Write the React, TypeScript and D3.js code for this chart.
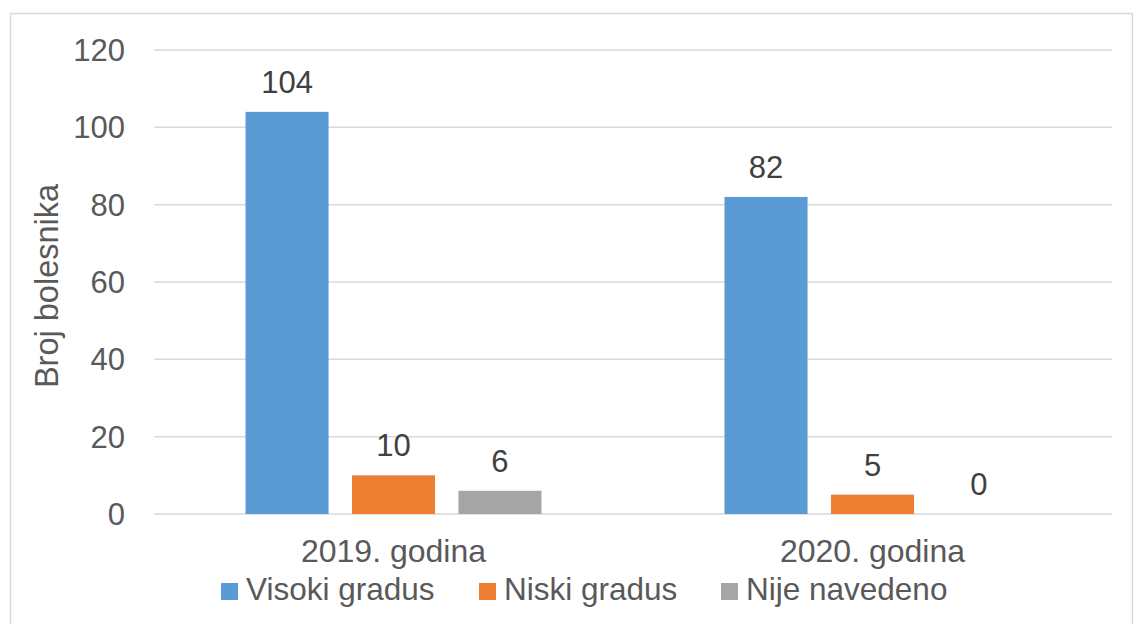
import React, { useEffect, useRef } from 'react';
import * as d3 from 'd3';

const categories = ['2019. godina', '2020. godina'];
const seriesNames = ['Visoki gradus', 'Niski gradus', 'Nije navedeno'];
const seriesColors = ['#5B9BD5', '#ED7D31', '#A5A5A5'];
const visokiGradus = [104, 82];
const niskiGradus = [10, 5];
const nijeNavedeno = [6, 0];
const yTicks = [0, 20, 40, 60, 80, 100, 120];

const width = 1136;
const height = 624;
const font = 'Arial, "Liberation Sans", sans-serif';

const App: React.FC = () => {
  const svgRef = useRef<SVGSVGElement>(null);

  useEffect(() => {
    const svg = d3.select(svgRef.current);
    svg.selectAll('*').remove();

    const values = [visokiGradus, niskiGradus, nijeNavedeno];
    const margin = { top: 50, right: 24, bottom: 110, left: 154 };
    const innerWidth = width - margin.left - margin.right;
    const innerHeight = height - margin.top - margin.bottom;

    // Chart border
    svg.append('rect')
      .attr('x', 10.5)
      .attr('y', 13.5)
      .attr('width', 1122)
      .attr('height', 620)
      .attr('fill', '#fff')
      .attr('stroke', '#d9d9d9')
      .attr('stroke-width', 1.5);

    const x0 = d3.scaleBand<string>()
      .domain(categories)
      .range([0, innerWidth]);

    const x1 = d3.scaleBand<string>()
      .domain(seriesNames)
      .range([x0.bandwidth() / 2 - 148, x0.bandwidth() / 2 + 148])
      .paddingInner(0.22);

    const y = d3.scaleLinear().domain([0, 120]).range([innerHeight, 0]);

    const g = svg.append('g')
      .attr('transform', `translate(${margin.left},${margin.top})`);

    // Grid lines
    g.selectAll('.grid')
      .data(yTicks)
      .enter()
      .append('line')
      .attr('x1', 0)
      .attr('x2', innerWidth)
      .attr('y1', d => y(d))
      .attr('y2', d => y(d))
      .attr('stroke', '#d9d9d9')
      .attr('stroke-width', 1.5);

    // Y tick labels
    g.selectAll('.ytick')
      .data(yTicks)
      .enter()
      .append('text')
      .attr('x', -29)
      .attr('y', d => y(d))
      .attr('dy', '0.35em')
      .attr('text-anchor', 'end')
      .attr('font-family', font)
      .attr('font-size', '31px')
      .attr('fill', '#595959')
      .text(d => d);

    // Bars
    const groups = g.selectAll('.group')
      .data(categories)
      .enter()
      .append('g')
      .attr('transform', d => `translate(${x0(d)},0)`);

    groups.each(function(cat, ci) {
      const grp = d3.select(this);
      seriesNames.forEach((s, si) => {
        const v = values[si][ci];
        grp.append('rect')
          .attr('x', x1(s) || 0)
          .attr('y', y(v))
          .attr('width', x1.bandwidth())
          .attr('height', innerHeight - y(v))
          .attr('fill', seriesColors[si]);
        grp.append('text')
          .attr('x', (x1(s) || 0) + x1.bandwidth() / 2)
          .attr('y', y(v) - 19)
          .attr('text-anchor', 'middle')
          .attr('font-family', font)
          .attr('font-size', '31px')
          .attr('fill', '#404040')
          .text(v);
      });
    });

    // Category labels
    g.selectAll('.xlabel')
      .data(categories)
      .enter()
      .append('text')
      .attr('x', d => (x0(d) || 0) + x0.bandwidth() / 2)
      .attr('y', innerHeight + 48)
      .attr('text-anchor', 'middle')
      .attr('font-family', font)
      .attr('font-size', '32px')
      .attr('fill', '#595959')
      .text(d => d);

    // Y-axis title
    svg.append('text')
      .attr('transform', `translate(58,286) rotate(-90)`)
      .attr('text-anchor', 'middle')
      .attr('font-family', font)
      .attr('font-size', '32.5px')
      .attr('fill', '#595959')
      .text('Broj bolesnika');

    // Legend
    const legendX = [221, 479, 721];
    const legend = svg.append('g');
    seriesNames.forEach((s, i) => {
      legend.append('rect')
        .attr('x', legendX[i])
        .attr('y', 583)
        .attr('width', 17)
        .attr('height', 17)
        .attr('fill', seriesColors[i]);
      legend.append('text')
        .attr('x', legendX[i] + 25)
        .attr('y', 600)
        .attr('font-family', font)
        .attr('font-size', '31.5px')
        .attr('fill', '#595959')
        .text(s);
    });
  }, []);

  return (
    <svg
      ref={svgRef}
      width={width}
      height={height}
      style={{ position: 'absolute', left: 0, top: 0, display: 'block' }}
    />
  );
};

export default App;
